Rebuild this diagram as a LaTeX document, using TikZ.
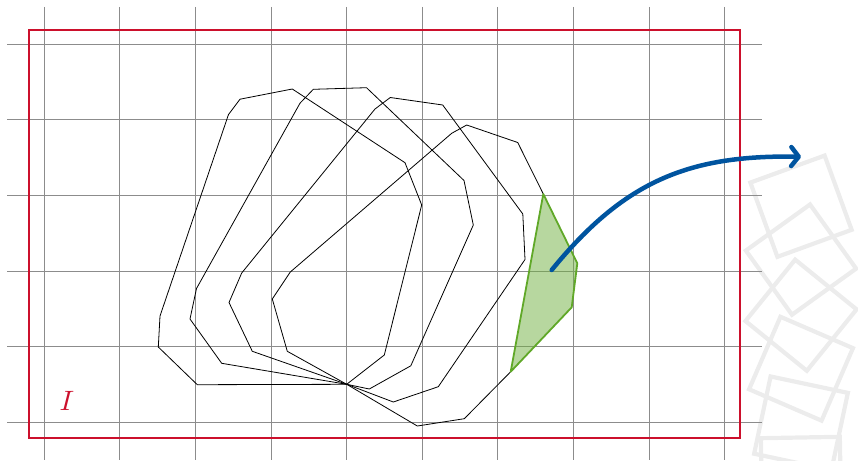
\documentclass[tikz,border=0pt]{standalone}
\usetikzlibrary{arrows.meta}
\definecolor{frame}{RGB}{204,16,44}
\definecolor{arrowblue}{RGB}{0,84,159}
\definecolor{gline}{RGB}{96,168,40}
\definecolor{gfill}{RGB}{112,176,64}
\definecolor{sqgray}{RGB}{236,236,236}
\tikzset{
  gridline/.style={line width=0.9pt, draw=black!45},
  poly/.style={line width=0.8pt, draw=black, line join=miter},
  framebox/.style={line width=2pt, draw=frame},
  piece/.style={line width=1.8pt, draw=gline, fill=gfill, fill opacity=0.5, line join=round},
  sq/.style={line width=4.2pt, draw=sqgray},
  bigarrow/.style={line width=4.5pt, draw=arrowblue, line cap=round, -{Straight Barb[round,length=7.5pt,width=19pt]}},
}
\begin{document}
\begin{tikzpicture}[x=1pt,y=-1pt]
\useasboundingbox (0,0) rectangle (858,460);
% light squares on the right
\foreach \cy/\ang in {206.2/20, 259.6/35.7, 315.2/51, 368.7/66.6, 423.3/78, 477/91}{
  \draw[sq, rotate around={\ang:(801,\cy)}] (761.5,\cy-39.5) rectangle (840.5,\cy+39.5);
}
% grid
\foreach \i in {0,...,9}{
  \draw[gridline] (44.3+75.6*\i,7) -- (44.3+75.6*\i,460);
}
\foreach \j in {0,...,5}{
  \draw[gridline] (7,44.3+75.6*\j) -- (762,44.3+75.6*\j);
}
% frame
\draw[framebox] (29.3,29.7) rectangle (740,437.7);
\node[text=frame, inner sep=0pt, scale=2.8] (label) at (67,401) {$I$};
% polygons
\coordinate (c) at (346.7,384.3);
\draw[poly] (c) -- (197.3,384.7) -- (158.3,347) -- (160,316) -- (228.5,114.5) -- (240,99.2) -- (292.3,89) -- (405,162.7) -- (421.7,205) -- (384.3,355) -- cycle;
\draw[poly] (c) -- (221.7,363.3) -- (190,319) -- (196.5,288.5) -- (300,103.2) -- (313.3,89.3) -- (366.5,87.7) -- (464,180.5) -- (473.3,225) -- (410.8,365.8) -- (369.3,389) -- cycle;
\draw[poly] (c) -- (252.3,351.3) -- (229,302.5) -- (241.7,273) -- (375,109) -- (390.3,97.5) -- (442.7,105) -- (522.8,214) -- (525,259.5) -- (438.3,386.7) -- (393.3,402) -- cycle;
\draw[poly] (543.3,194) -- (517.7,142.5) -- (466.7,125) -- (451.7,133.3) -- (290.3,272) -- (272.3,299) -- (287.3,351.3) -- (c) -- (417.3,426) -- (464.3,418.7) -- (510.7,371.7);
% green piece
\draw[piece] (543.3,194) -- (577.3,263.3) -- (571.7,307.3) -- (510.7,371.7) -- cycle;
% arrow
\coordinate (astart) at (551.7,270);
\coordinate (aend) at (801,156.7);
\draw[bigarrow] (astart) .. controls (625,180) and (690,155) .. (aend);
\end{tikzpicture}
\end{document}
